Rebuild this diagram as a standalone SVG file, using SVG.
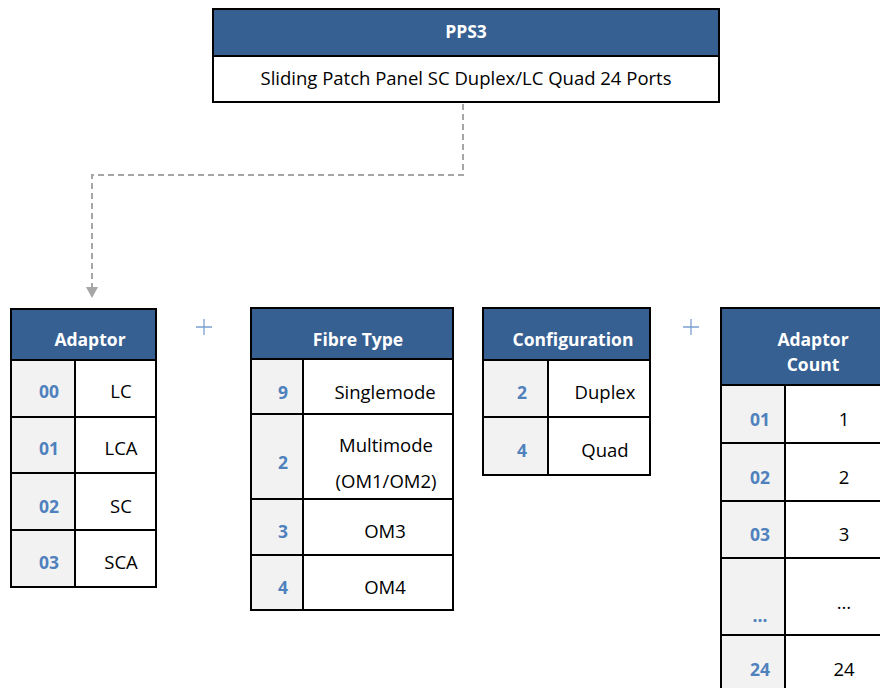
<svg xmlns="http://www.w3.org/2000/svg" width="880" height="688" viewBox="0 0 880 688">
<style>
text{font-family:"Open Sans","Liberation Sans",sans-serif;font-size:18.5px;text-anchor:middle}
.hd{fill:#366092}
.hdt{fill:#fff;font-weight:bold;font-size:17.5px}
.code{fill:#f2f2f2}
.ct{fill:#4f81bd;font-weight:bold;font-size:17.5px}
.vt{fill:#000}
.bd{fill:none;stroke:#000;stroke-width:2}
.plus{stroke:#7ba0d0;stroke-width:1.3}
</style>
<rect width="880" height="688" fill="#fff"/>
<g id="connectors">
<path d="M463,104 V175 H92 V290" fill="none" stroke="#a6a6a6" stroke-width="2" stroke-dasharray="6,4"/>
<path d="M86,287 L98,287 L92,298 Z" fill="#a6a6a6"/>
</g>
<g id="pps3">
<rect x="213" y="9" width="506" height="47" class="hd"/>
<rect x="213" y="9" width="506" height="93" class="bd"/>
<line x1="213" y1="56" x2="719" y2="56" stroke="#000" stroke-width="2"/>
<text x="466" y="38" class="hdt">PPS3</text>
<text x="466" y="85" class="vt">Sliding Patch Panel SC Duplex/LC Quad 24 Ports</text>
</g>
<g id="plus1"><path class="plus" d="M196,327 H212 M204,319 V335"/></g>
<g id="plus2"><path class="plus" d="M683,327 H699 M691,319 V335"/></g>
<g id="adaptor">
<rect x="11" y="309" width="145" height="51" class="hd"/>
<rect x="11" y="360" width="64" height="227" class="code"/>
<rect x="11" y="309" width="145" height="278" class="bd"/>
<path d="M11,360 H156 M11,417 H156 M11,473 H156 M11,530 H156 M75,360 V587" stroke="#000" stroke-width="2" fill="none"/>
<text x="90" y="346" class="hdt">Adaptor</text>
<text x="49" y="398" class="ct">00</text><text x="121" y="398" class="vt">LC</text>
<text x="49" y="455" class="ct">01</text><text x="121" y="455" class="vt">LCA</text>
<text x="49" y="513" class="ct">02</text><text x="121" y="513" class="vt">SC</text>
<text x="49" y="569" class="ct">03</text><text x="121" y="569" class="vt">SCA</text>
</g>
<g id="fibre">
<rect x="251" y="308" width="202" height="51" class="hd"/>
<rect x="251" y="359" width="52" height="251" class="code"/>
<rect x="251" y="308" width="202" height="302" class="bd"/>
<path d="M251,359 H453 M251,414 H453 M251,499 H453 M251,555 H453 M303,359 V610" stroke="#000" stroke-width="2" fill="none"/>
<text x="358" y="346" class="hdt">Fibre Type</text>
<text x="283" y="399" class="ct">9</text><text x="385" y="399" class="vt">Singlemode</text>
<text x="283" y="469" class="ct">2</text><text x="386" y="452" class="vt">Multimode</text><text x="386" y="488" class="vt">(OM1/OM2)</text>
<text x="283" y="538" class="ct">3</text><text x="385" y="538" class="vt">OM3</text>
<text x="283" y="594" class="ct">4</text><text x="385" y="594" class="vt">OM4</text>
</g>
<g id="config">
<rect x="483" y="308" width="167" height="52" class="hd"/>
<rect x="483" y="360" width="65" height="115" class="code"/>
<rect x="483" y="308" width="167" height="167" class="bd"/>
<path d="M483,360 H650 M483,417 H650 M548,360 V475" stroke="#000" stroke-width="2" fill="none"/>
<text x="573" y="346" class="hdt">Configuration</text>
<text x="522" y="399" class="ct">2</text><text x="605" y="399" class="vt">Duplex</text>
<text x="522" y="457" class="ct">4</text><text x="605" y="457" class="vt">Quad</text>
</g>
<g id="count">
<rect x="721" y="308" width="180" height="77" class="hd"/>
<rect x="721" y="385" width="64" height="310" class="code"/>
<rect x="721" y="308" width="180" height="400" class="bd"/>
<path d="M721,385 H901 M721,443 H901 M721,501 H901 M721,558 H901 M721,635 H901 M785,385 V700" stroke="#000" stroke-width="2" fill="none"/>
<text x="813" y="346" class="hdt">Adaptor</text>
<text x="813" y="371" class="hdt">Count</text>
<text x="760" y="426" class="ct">01</text><text x="844" y="426" class="vt">1</text>
<text x="760" y="484" class="ct">02</text><text x="844" y="484" class="vt">2</text>
<text x="760" y="541" class="ct">03</text><text x="844" y="541" class="vt">3</text>
<text x="760" y="622" class="ct">…</text><text x="844" y="609" class="vt">…</text>
<text x="760" y="676" class="ct">24</text><text x="844" y="676" class="vt">24</text>
</g>
</svg>
